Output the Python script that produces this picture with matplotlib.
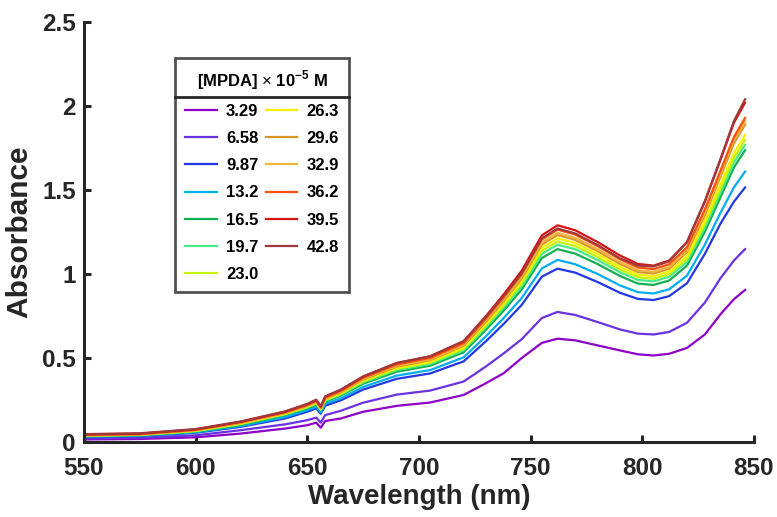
import numpy as np
import matplotlib
matplotlib.use("Agg")
import matplotlib.pyplot as plt

plt.rcParams['font.family'] = ['Liberation Sans', 'DejaVu Sans']
plt.rcParams['mathtext.fontset'] = 'custom'
plt.rcParams['mathtext.rm'] = 'Liberation Sans'
plt.rcParams['mathtext.bf'] = 'Liberation Sans:bold'

# wavelength grid (nm)
wl = [550, 575, 600, 620, 640, 650, 654, 656, 658, 665, 675, 690, 705, 720, 730,
      738, 746, 755, 762, 770, 780, 790, 798, 805, 812, 820, 828, 835, 841, 846]

# concentrations of MPDA (x 1e-5 M)
conc = ["3.29", "6.58", "9.87", "13.2", "16.5", "19.7", "23.0",
        "26.3", "29.6", "32.9", "36.2", "39.5", "42.8"]

# absorbance spectra, one list per concentration
a_329 = [0.015, 0.018, 0.028, 0.050, 0.080, 0.100, 0.115, 0.085, 0.125, 0.140, 0.180, 0.215, 0.235, 0.280, 0.350,
         0.410, 0.500, 0.590, 0.615, 0.605, 0.575, 0.545, 0.522, 0.515, 0.525, 0.560, 0.640, 0.760, 0.850, 0.905]
a_658 = [0.020, 0.025, 0.040, 0.070, 0.105, 0.130, 0.145, 0.115, 0.160, 0.186, 0.234, 0.282, 0.306, 0.360, 0.450,
         0.528, 0.612, 0.738, 0.774, 0.756, 0.714, 0.670, 0.645, 0.640, 0.655, 0.710, 0.830, 0.975, 1.080, 1.148]
a_987 = [0.030, 0.035, 0.055, 0.090, 0.140, 0.180, 0.200, 0.168, 0.216, 0.248, 0.312, 0.376, 0.408, 0.480, 0.600,
         0.704, 0.816, 0.984, 1.032, 1.008, 0.952, 0.888, 0.852, 0.845, 0.868, 0.945, 1.120, 1.300, 1.430, 1.515]
a_132 = [0.032, 0.037, 0.058, 0.095, 0.148, 0.189, 0.210, 0.176, 0.227, 0.260, 0.328, 0.395, 0.428, 0.504, 0.630,
         0.739, 0.857, 1.033, 1.084, 1.058, 1.000, 0.932, 0.892, 0.884, 0.909, 0.990, 1.175, 1.365, 1.515, 1.610]
a_165 = [0.035, 0.040, 0.062, 0.100, 0.160, 0.200, 0.222, 0.187, 0.240, 0.276, 0.347, 0.418, 0.454, 0.534, 0.668,
         0.783, 0.908, 1.095, 1.148, 1.121, 1.059, 0.988, 0.943, 0.935, 0.961, 1.050, 1.251, 1.457, 1.634, 1.737]
a_197 = [0.037, 0.042, 0.064, 0.105, 0.164, 0.205, 0.228, 0.191, 0.246, 0.282, 0.355, 0.428, 0.464, 0.546, 0.683,
         0.801, 0.928, 1.119, 1.174, 1.147, 1.083, 1.010, 0.965, 0.956, 0.983, 1.072, 1.276, 1.485, 1.663, 1.768]
a_230 = [0.038, 0.043, 0.066, 0.108, 0.167, 0.208, 0.231, 0.194, 0.250, 0.287, 0.361, 0.435, 0.472, 0.555, 0.694,
         0.814, 0.944, 1.138, 1.193, 1.166, 1.101, 1.027, 0.981, 0.971, 0.999, 1.090, 1.298, 1.510, 1.691, 1.798]
a_263 = [0.039, 0.044, 0.068, 0.110, 0.169, 0.212, 0.235, 0.197, 0.254, 0.291, 0.367, 0.442, 0.479, 0.564, 0.705,
         0.827, 0.959, 1.156, 1.213, 1.184, 1.119, 1.043, 0.996, 0.987, 1.015, 1.108, 1.319, 1.536, 1.720, 1.828]
a_296 = [0.040, 0.045, 0.070, 0.113, 0.172, 0.215, 0.239, 0.201, 0.258, 0.296, 0.372, 0.449, 0.487, 0.573, 0.716,
         0.840, 0.974, 1.175, 1.232, 1.203, 1.136, 1.060, 1.012, 1.003, 1.031, 1.131, 1.351, 1.579, 1.777, 1.889]
a_329b = [0.041, 0.046, 0.071, 0.115, 0.174, 0.217, 0.241, 0.203, 0.261, 0.299, 0.376, 0.454, 0.492, 0.579, 0.724,
          0.849, 0.984, 1.187, 1.245, 1.216, 1.148, 1.071, 1.023, 1.013, 1.042, 1.142, 1.366, 1.596, 1.796, 1.909]
a_362 = [0.042, 0.047, 0.073, 0.118, 0.176, 0.220, 0.245, 0.206, 0.265, 0.304, 0.382, 0.461, 0.500, 0.588, 0.735,
         0.862, 1.000, 1.205, 1.264, 1.235, 1.166, 1.088, 1.039, 1.029, 1.058, 1.159, 1.384, 1.615, 1.815, 1.929]
a_395 = [0.045, 0.050, 0.075, 0.120, 0.180, 0.225, 0.250, 0.210, 0.270, 0.310, 0.390, 0.470, 0.510, 0.600, 0.750,
         0.880, 1.020, 1.230, 1.290, 1.260, 1.190, 1.110, 1.060, 1.050, 1.080, 1.190, 1.430, 1.680, 1.900, 2.020]
a_428 = [0.047, 0.052, 0.077, 0.122, 0.182, 0.227, 0.252, 0.212, 0.272, 0.312, 0.390, 0.470, 0.510, 0.600, 0.745,
         0.870, 1.005, 1.212, 1.271, 1.241, 1.172, 1.093, 1.050, 1.045, 1.075, 1.190, 1.435, 1.685, 1.910, 2.040]

spectra = [a_329, a_658, a_987, a_132, a_165, a_197, a_230,
           a_263, a_296, a_329b, a_362, a_395, a_428]
colors = ["#8c00c8", "#6a32e0", "#2238e6", "#00aef0", "#14b050", "#48ea8c", "#c4f400",
          "#f8f000", "#d8962a", "#f0b440", "#ff5010", "#d41414", "#a03a3a"]

fig, ax = plt.subplots(figsize=(7.77, 5.17), dpi=100)
fig.subplots_adjust(left=84/777, right=754/777, bottom=1-442/517, top=1-22/517)

for c, y, col in zip(conc, spectra, colors):
    ax.plot(wl, y, color=col, lw=1.6, label=c)

ax.set_xlim(550, 850)
ax.set_ylim(0, 2.5)
ax.set_xticks([550, 600, 650, 700, 750, 800, 850])
ax.set_yticks([0, 0.5, 1, 1.5, 2, 2.5])
ax.set_yticklabels(["0", "0.5", "1", "1.5", "2", "2.5"])
for s in ["top", "right"]:
    ax.spines[s].set_visible(False)
for s in ["left", "bottom"]:
    ax.spines[s].set_linewidth(2.2)
    ax.spines[s].set_color("#262626")
ax.tick_params(direction="in", length=5, width=2.2, color="#262626",
               labelsize=17.5, labelcolor="#262626")
ax.tick_params(axis="x", pad=11)
ax.tick_params(axis="y", pad=6)
for lab in ax.get_xticklabels() + ax.get_yticklabels():
    lab.set_fontweight("bold")
ax.set_xlabel("Wavelength (nm)", fontsize=20, fontweight="bold", color="#262626", labelpad=3)
ax.set_ylabel("Absorbance", fontsize=21.5, fontweight="bold", color="#262626", labelpad=6)

leg = ax.legend(ncol=2, loc="upper left", bbox_to_anchor=(0.136, 0.914), borderaxespad=0,
                title=r"[MPDA] $\times$ 10$^{\mathbf{-5}}$ M",
                title_fontproperties={"weight": "bold", "size": 12},
                prop={"weight": "bold", "size": 12},
                frameon=True, fancybox=False, edgecolor="#262626",
                handlelength=1.9, handletextpad=0.55, columnspacing=0.45,
                labelspacing=0.73, borderpad=0.6)
leg.get_frame().set_linewidth(2.0)

# separator line under the legend title, spanning the legend box
fig.canvas.draw()
bb = leg.get_window_extent().transformed(ax.transAxes.inverted())
tb = leg.get_title().get_window_extent().transformed(ax.transAxes.inverted())
ysep = tb.y0 - 0.012
ax.plot([bb.x0, bb.x1], [ysep, ysep], transform=ax.transAxes, color="#262626",
        lw=2.0, clip_on=False, zorder=10)

fig.savefig("out.png", dpi=100)
